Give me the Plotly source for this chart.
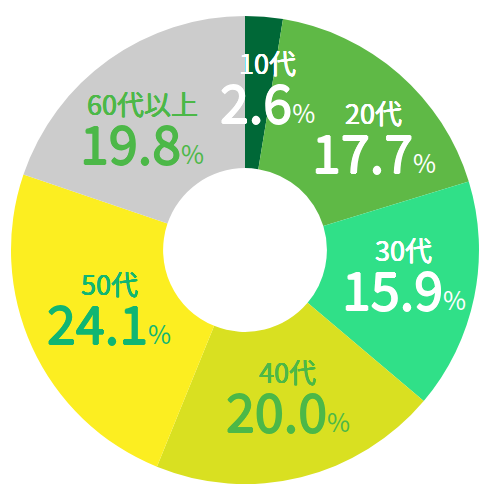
import math

import plotly.graph_objects as go

# data
ages = ['10代', '20代', '30代', '40代', '50代', '60代以上']
shares = [2.6, 17.7, 15.9, 20.0, 24.1, 19.8]

SLICE_COLORS = ['#006837', '#5fb946', '#30e088', '#d9e021', '#fcee21', '#cccccc']
TEXT_COLORS = ['#ffffff', '#ffffff', '#ffffff', '#4cb848', '#10b673', '#4cb848']
# hand nudges (px) for the label blocks, like the original layout
NUDGE = [(10, 2), (25, 13), (4, 0), (5, 0), (8, 0), (-11, 14)]

HOLE = 0.35
FONT = 'Noto Sans CJK JP'


def thicken(col, w):
    # a same-coloured shadow gives the medium weight the font lacks
    return ', '.join('%gpx %gpx 0 %s' % (a, b, col)
                     for a, b in [(w, 0), (-w, 0), (0, w), (0, -w)])


fig = go.Figure(go.Pie(
    labels=ages,
    values=shares,
    hole=HOLE,
    sort=False,
    direction='clockwise',
    rotation=0,
    marker=dict(colors=SLICE_COLORS, line=dict(width=0)),
    textinfo='none',
    hoverinfo='label+percent',
    showlegend=False,
))

# labels sit in the middle of the ring, at each slice's mid angle
total = sum(shares)
mid_r = 0.5 * (1 + HOLE) / 2
annotations = []
start = 0
for age, val, col, (dx, dy) in zip(ages, shares, TEXT_COLORS, NUDGE):
    theta = 2 * math.pi * (start + val / 2) / total
    start += val
    x = 0.5 + mid_r * math.sin(theta)
    y = 0.5 + mid_r * math.cos(theta)
    common = dict(x=x, y=y, xref='paper', yref='paper', showarrow=False,
                  xanchor='center', yanchor='middle', xshift=dx)
    annotations.append(dict(
        text=age,
        font=dict(family=FONT, size=27, color=col, shadow=thicken(col, 0.3)),
        yshift=32 - dy, **common,
    ))
    annotations.append(dict(
        text='%.1f<span style="font-size:25px;text-shadow:none">%%</span>' % val,
        font=dict(family=FONT, size=52, color=col, shadow=thicken(col, 0.8)),
        yshift=-6 - dy, **common,
    ))

# page body has an 8px margin, so the margins are trimmed by that much
fig.update_layout(
    width=490,
    height=490,
    margin=dict(l=3, r=19, t=8, b=14),
    paper_bgcolor='white',
    plot_bgcolor='white',
    annotations=annotations,
)

fig.write_html('out.html')
